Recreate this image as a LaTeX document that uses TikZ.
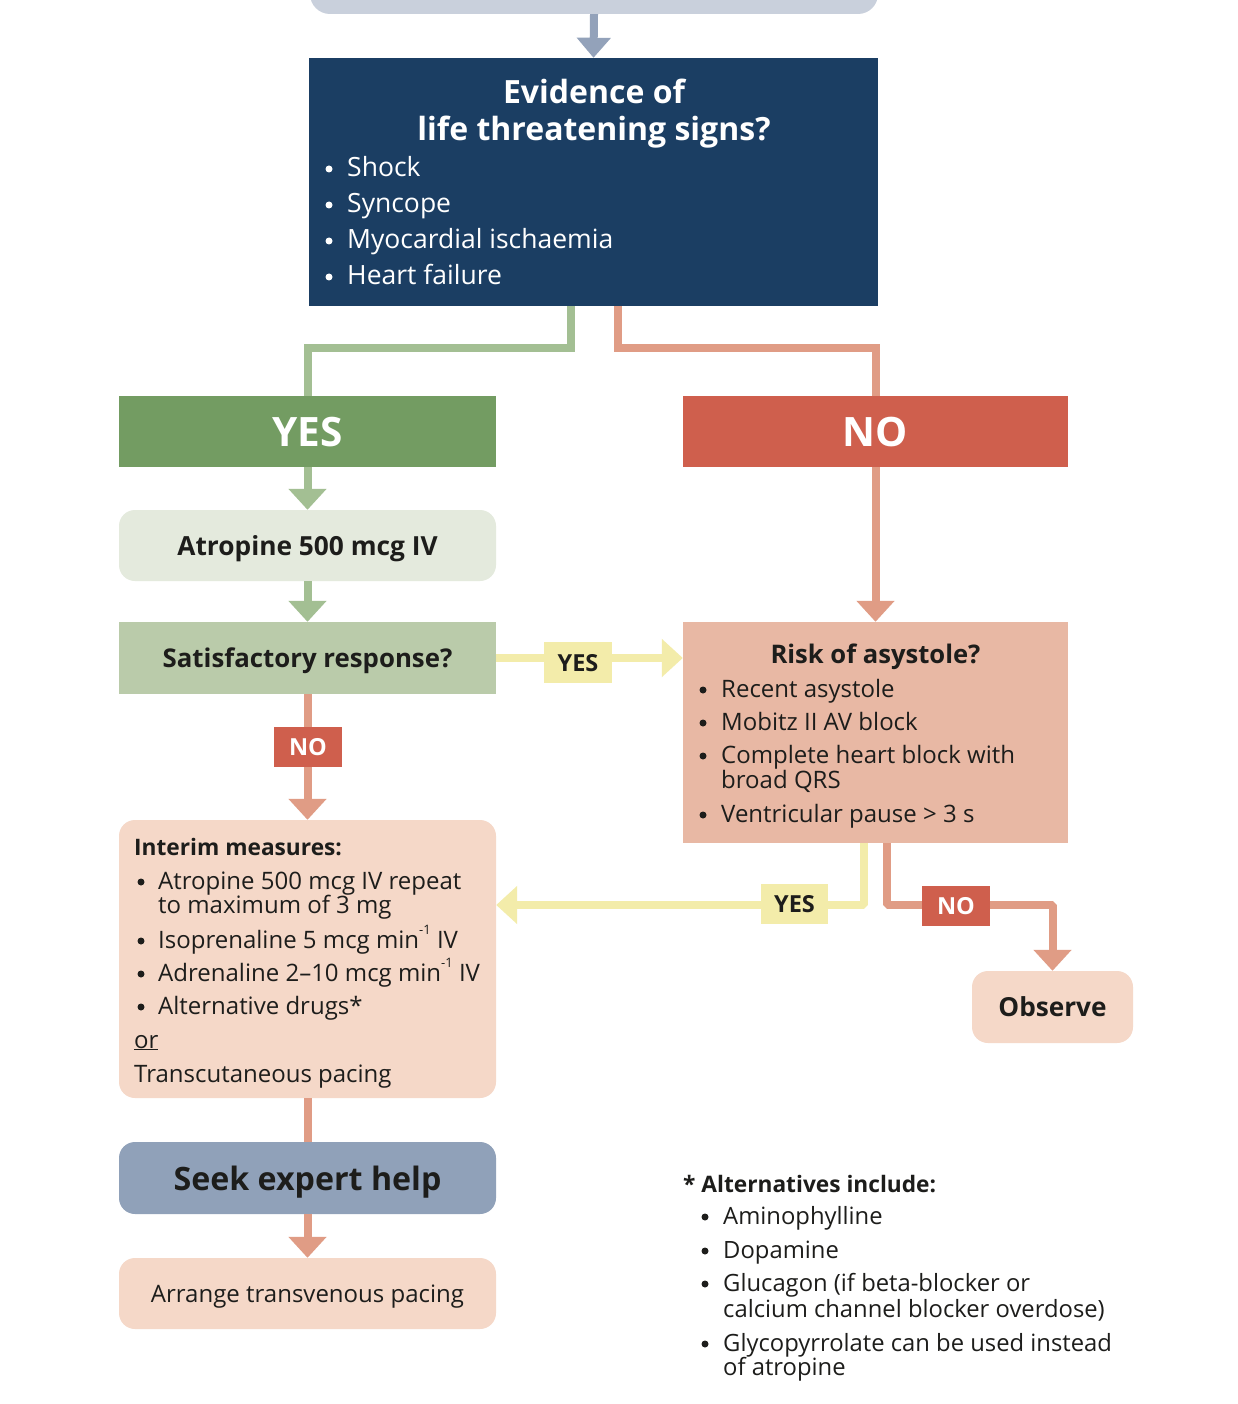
\documentclass[tikz,border=0pt]{standalone}
\usepackage{fontspec}
\setmainfont{Open Sans}
\usetikzlibrary{arrows.meta,calc}
\definecolor{topc}{HTML}{C9D0DC}
\definecolor{greyarr}{HTML}{93A2BA}
\definecolor{darkc}{HTML}{1B3E63}
\definecolor{gcon}{HTML}{A3BF93}
\definecolor{yesc}{HTML}{739C62}
\definecolor{noc}{HTML}{CF5F4D}
\definecolor{salm}{HTML}{E09C85}
\definecolor{atrc}{HTML}{E4EADD}
\definecolor{satc}{HTML}{BACBAA}
\definecolor{riskc}{HTML}{E8B8A4}
\definecolor{peach}{HTML}{F5D8C8}
\definecolor{seekc}{HTML}{90A1B9}
\definecolor{yel}{HTML}{F3ECAA}
\definecolor{ink}{HTML}{1D1D1B}
\newcommand\myfs[1]{\fontsize{#1}{#1}\selectfont}
\newcommand\supm{\raisebox{0.55em}{\myfs{13}-1}}
\begin{document}
\begin{tikzpicture}[x=1pt,y=-1pt,
  box/.style={inner sep=0pt, text depth=0pt, text=ink},
  rbox/.style={box, rounded corners=16pt},
  lab/.style={inner sep=0pt, minimum height=40pt, text depth=0pt, font=\bfseries\myfs{23.5}},
  con/.style={line width=8pt},
  tip/.style={-{Triangle[width=37pt,length=21pt]}},
  t/.style={inner sep=0pt, anchor=base west, text=ink},
  tc/.style={inner sep=0pt, anchor=base, text=ink},
  tw/.style={inner sep=0pt, anchor=base west, text=white},
  bul/.style={circle, fill=ink, inner sep=0pt, minimum size=7pt},
  bulw/.style={bul, fill=white}]
\clip (0,0) rectangle (1238,1404);
\fill[white] (0,0) rectangle (1238,1404);
% boxes
\node[rbox, fill=topc, rounded corners=20pt, minimum width=568pt, minimum height=70pt] (top) at (594,-21) {};
\node[box, fill=darkc, minimum width=569pt, minimum height=248pt] (ev) at (593.5,182) {};
\node[box, fill=yesc, text=white, minimum width=377pt, minimum height=71pt, font=\bfseries\myfs{40.5}] (yesb) at (307.5,431.5) {YES};
\node[box, fill=noc, text=white, minimum width=385pt, minimum height=71pt, font=\bfseries\myfs{40.5}] (nob) at (875.5,431.5) {NO};
\node[rbox, fill=atrc, minimum width=377pt, minimum height=71pt, font=\bfseries\myfs{26.3}] (atr) at (307.5,545.5) {Atropine 500 mcg IV};
\node[box, fill=satc, minimum width=377pt, minimum height=72pt, font=\bfseries\myfs{25.8}] (sat) at (307.5,658) {Satisfactory response?};
\node[box, fill=riskc, minimum width=385pt, minimum height=221pt] (risk) at (875.5,732.5) {};
\node[rbox, fill=peach, minimum width=377pt, minimum height=278pt] (intr) at (307.5,959) {};
\node[rbox, fill=peach, minimum width=161pt, minimum height=72pt, font=\bfseries\myfs{26.2}] (obs) at (1052.5,1007) {Observe};
\node[rbox, fill=seekc, minimum width=377pt, minimum height=72pt, font=\bfseries\myfs{32.2}] (seek) at (307.5,1178) {Seek expert help};
\node[rbox, fill=peach, minimum width=377pt, minimum height=71pt, font=\myfs{24}] (arr) at (307.5,1293.5) {Arrange transvenous pacing};
% connectors
\draw[con, draw=greyarr, -{Triangle[width=33pt,length=20pt]}] (top.south) -- (ev.north);
\draw[con, draw=gcon] ([xshift=-22.5pt]ev.south) -- ++(0,42) -| (yesb.north);
\draw[con, draw=salm] ([xshift=24.5pt]ev.south) -- ++(0,42) -| (nob.north);
\draw[con, draw=gcon, tip] (yesb.south) -- (atr.north);
\draw[con, draw=gcon, tip] (atr.south) -- (sat.north);
\draw[con, draw=salm, tip] (nob.south) -- (risk.north);
\draw[con, draw=yel, tip] (sat.east) -- (sat.east -| risk.west);
\draw[con, draw=salm, tip] (sat.south) -- (intr.north);
\draw[con, draw=yel, tip, line join=bevel] ([xshift=-11.5pt]risk.south) |- ([yshift=54pt]intr.east);
\draw[con, draw=salm, tip, line join=bevel] ([xshift=11.5pt]risk.south) -- ++(0,62) -| (obs.north);
\draw[con, draw=salm] (intr.south) -- (seek.north);
\draw[con, draw=salm, tip] (seek.south) -- (arr.north);
% labels
\node[lab, fill=yel, text=ink, minimum width=68pt, minimum height=41pt] (l1) at (578,662.5) {YES};
\node[lab, fill=noc, text=white, minimum width=68pt] (l2) at (308,747) {NO};
\node[lab, fill=yel, text=ink, minimum width=67pt] (l3) at (794.5,904) {YES};
\node[lab, fill=noc, text=white, minimum width=68pt] (l4) at (956,906) {NO};
% evidence text
\node[tc, text=white, font=\bfseries\myfs{32}] (e1) at (594,104) {Evidence of};
\node[tc, text=white, font=\bfseries\myfs{32}] (e2) at (594,141) {life threatening signs?};
\begin{scope}[every node/.append style={font=\myfs{26.5}}]
\node[bulw] (eb1) at (329,169) {}; \node[tw] (et1) at (347,177) {Shock};
\node[bulw] (eb2) at (329,205) {}; \node[tw] (et2) at (347,213) {Syncope};
\node[bulw] (eb3) at (329,241) {}; \node[tw] (et3) at (347,249) {Myocardial ischaemia};
\node[bulw] (eb4) at (329,277) {}; \node[tw] (et4) at (347,285) {Heart failure};
\end{scope}
% risk text
\node[tc, font=\bfseries\myfs{25.6}] (r0) at (875.5,663) {Risk of asystole?};
\begin{scope}[every node/.append style={font=\myfs{24}}]
\node[bul] (rb1) at (703,690) {}; \node[t] (rt1) at (721,697) {Recent asystole};
\node[bul] (rb2) at (703,723) {}; \node[t] (rt2) at (721,730) {Mobitz II AV block};
\node[bul] (rb3) at (703,756) {}; \node[t] (rt3) at (721,763) {Complete heart block with};
\node[t] (rt3b) at (721,788) {broad QRS};
\node[bul] (rb4) at (703,815) {}; \node[t] (rt4) at (721,822) {Ventricular pause > 3 s};
\end{scope}
% interim text
\node[t, font=\bfseries\myfs{22.7}] (i0) at (134,855) {Interim measures:};
\begin{scope}[every node/.append style={font=\myfs{24}}]
\node[bul] (ib1) at (141,882) {}; \node[t] (it1) at (158,889) {Atropine 500 mcg IV repeat};
\node[t] (it1b) at (158,913) {to maximum of 3 mg};
\node[bul] (ib2) at (141,941) {}; \node[t] (it2) at (158,948) {Isoprenaline 5 mcg min\supm{} IV};
\node[bul] (ib3) at (141,974) {}; \node[t] (it3) at (158,981) {Adrenaline 2–10 mcg min\supm{} IV};
\node[bul] (ib4) at (141,1007) {}; \node[t] (it4) at (158,1014) {Alternative drugs*};
\node[t] (io) at (134,1048) {\underline{or}};
\node[t] (ip) at (134,1082) {Transcutaneous pacing};
\end{scope}
% footnote
\node[t, font=\bfseries\myfs{22.7}] (f0) at (683,1192) {* Alternatives include:};
\begin{scope}[every node/.append style={font=\myfs{23.8}}]
\node[bul] (fb1) at (705,1217) {}; \node[t] (ft1) at (723,1224) {Aminophylline};
\node[bul] (fb2) at (705,1251) {}; \node[t] (ft2) at (723,1258) {Dopamine};
\node[bul] (fb3) at (705,1284) {}; \node[t] (ft3) at (723,1291) {Glucagon (if beta-blocker or};
\node[t] (ft3b) at (723,1317) {calcium channel blocker overdose)};
\node[bul] (fb4) at (705,1344) {}; \node[t] (ft4) at (723,1351) {Glycopyrrolate can be used instead};
\node[t] (ft4b) at (723,1375) {of atropine};
\end{scope}
\end{tikzpicture}
\end{document}
